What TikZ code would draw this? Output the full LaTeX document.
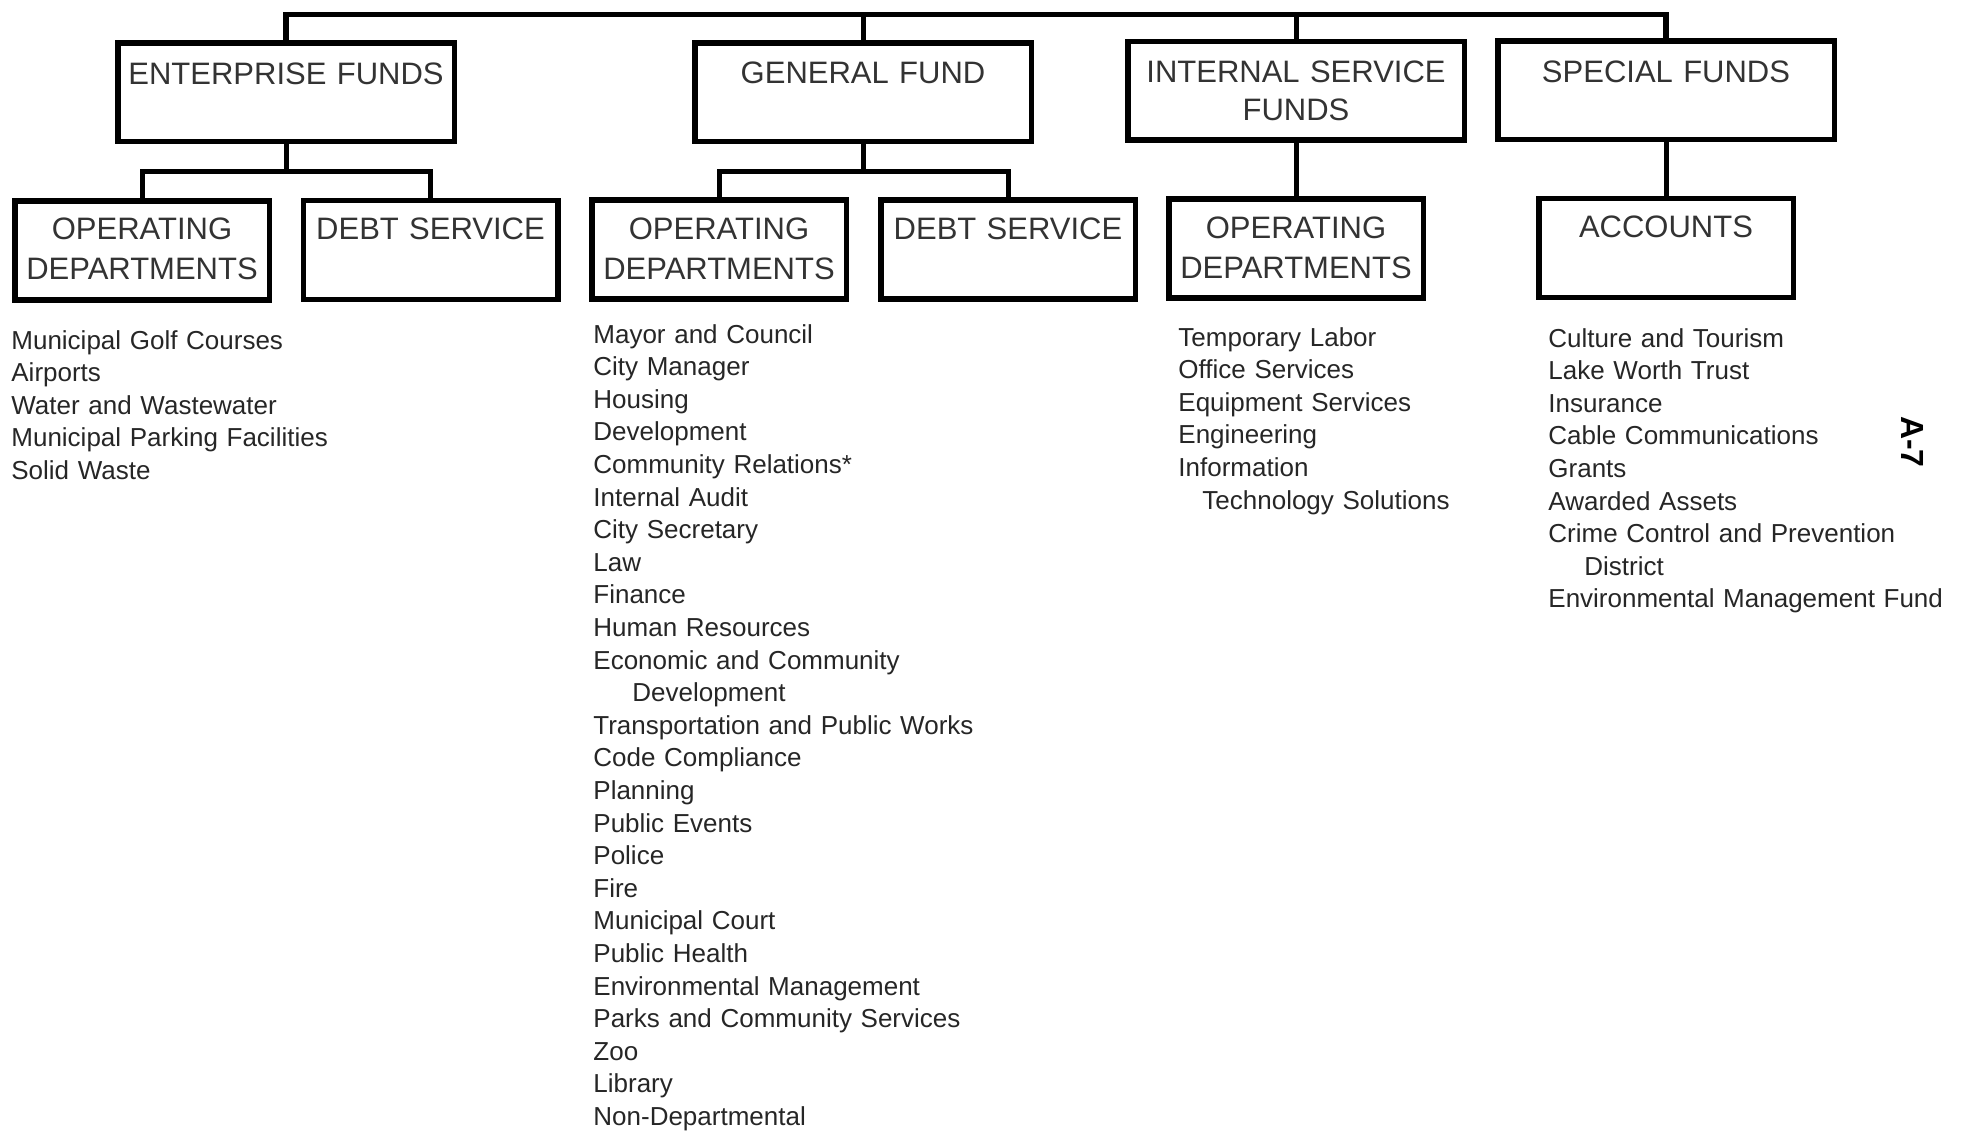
\documentclass[tikz,border=0pt]{standalone}
\usepackage{fontspec}
\setmainfont{Liberation Sans}
\begin{document}
\begin{tikzpicture}[x=0.5pt,y=-0.5pt,
  topbox/.style={draw=black, line width=2.75pt, rectangle, inner sep=0pt,
    minimum width=168.25pt, minimum height=49.25pt},
  subbox/.style={draw=black, line width=2.75pt, rectangle, inner sep=0pt,
    minimum width=127.25pt, minimum height=49.5pt},
  conn/.style={draw=black, line width=2.5pt, line join=miter},
  topconn/.style={draw=black, line width=2.75pt, line join=miter},
  boxlbl/.style={anchor=base, inner sep=0pt, text=black!80,
    font=\fontsize{15.5}{19}\selectfont, align=center, text width=165pt},
  sublbl/.style={anchor=base, inner sep=0pt, text=black!80,
    font=\fontsize{15.5}{20}\selectfont, align=center, text width=125pt},
  listtxt/.style={anchor=base west, inner sep=0pt, text=black!85,
    font=\fontsize{13}{16.3}\selectfont, align=left, text width=230pt}]
\useasboundingbox (0,0) rectangle (1963,1130);

% top row boxes
\node[topbox] (ef)  at (286,92) {};
\node[topbox] (gf)  at (863,92) {};
\node[topbox] (isf) at (1296,90.5) {};
\node[topbox] (sf)  at (1666,90) {};

% second row boxes
\node[subbox] (efod)  at (142,250.5) {};
\node[subbox] (efds)  at (430.5,250) {};
\node[subbox] (gfod)  at (719,249.5) {};
\node[subbox] (gfds)  at (1008,249.5) {};
\node[subbox] (isfod) at (1296,248.5) {};
\node[subbox] (acc)   at (1666,248) {};

% box labels
\node[boxlbl] (ef-t)  at (286,84) {ENTERPRISE FUNDS};
\node[boxlbl] (gf-t)  at (863,83) {GENERAL FUND};
\node[boxlbl] (isf-t) at (1296,82) {INTERNAL SERVICE\\FUNDS};
\node[boxlbl] (sf-t)  at (1666,82) {SPECIAL FUNDS};

\node[sublbl] (efod-t)  at (142,239) {OPERATING\\DEPARTMENTS};
\node[sublbl] (efds-t)  at (430.5,239) {DEBT SERVICE};
\node[sublbl] (gfod-t)  at (719,239) {OPERATING\\DEPARTMENTS};
\node[sublbl] (gfds-t)  at (1008,239) {DEBT SERVICE};
\node[sublbl] (isfod-t) at (1296,238) {OPERATING\\DEPARTMENTS};
\node[sublbl] (acc-t)   at (1666,237) {ACCOUNTS};

% connectors
\coordinate (bar) at (0,14.5);
\coordinate (efbar) at (286,171);
\coordinate (gfbar) at (863,171);
\draw[topconn] (ef.north) -- (ef.north |- bar) -- (sf.north |- bar) -- (sf.north);
\draw[conn] (gf.north) -- (gf.north |- bar);
\draw[conn] (isf.north) -- (isf.north |- bar);

\draw[conn] (ef.south) -- (efbar);
\draw[conn] (efod.north) |- (efbar) -| (efds.north);
\draw[conn] (gf.south) -- (gfbar);
\draw[conn] (gfod.north) |- (gfbar) -| (gfds.north);
\draw[conn] (isf.south) -- (isfod.north);
\draw[conn] (sf.south) -- (acc.north);

% lists
\node[listtxt] (eflist) at (11,349) {Municipal Golf Courses\\Airports\\Water and Wastewater\\Municipal Parking Facilities\\Solid Waste};
\node[listtxt] (gflist) at (593,343) {Mayor and Council\\City Manager\\Housing\\Development\\Community Relations*\\Internal Audit\\City Secretary\\Law\\Finance\\Human Resources\\Economic and Community\\\hspace*{19.5pt}Development\\Transportation and Public Works\\Code Compliance\\Planning\\Public Events\\Police\\Fire\\Municipal Court\\Public Health\\Environmental Management\\Parks and Community Services\\Zoo\\Library\\Non-Departmental};
\node[listtxt] (isflist) at (1178,346) {Temporary Labor\\Office Services\\Equipment Services\\Engineering\\Information\\\hspace*{12pt}Technology Solutions};
\node[listtxt] (sflist) at (1548,347) {Culture and Tourism\\Lake Worth Trust\\Insurance\\Cable Communications\\Grants\\Awarded Assets\\Crime Control and Prevention\\\hspace*{18pt}District\\Environmental Management Fund};

% page number
\node[rotate=-90, inner sep=0pt, font=\bfseries\fontsize{16}{19}\selectfont] (pg) at (1912,442) {A-7};
\end{tikzpicture}
\end{document}
